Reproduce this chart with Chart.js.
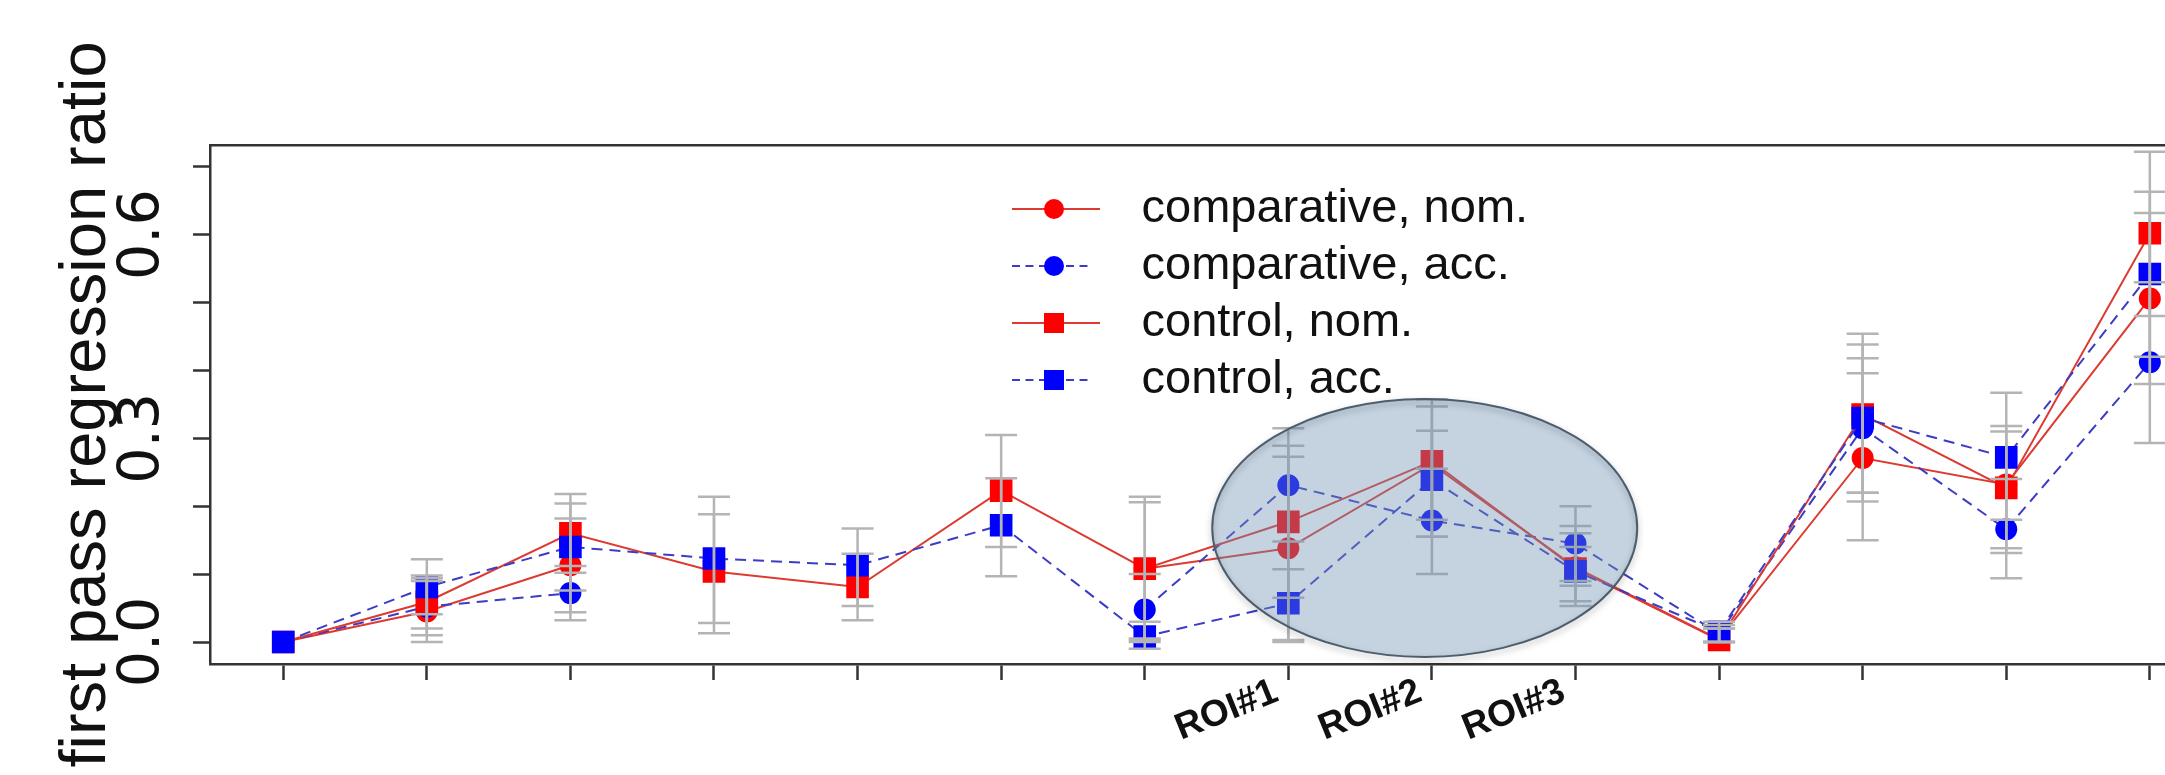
<!DOCTYPE html>
<html>
<head>
<meta charset="utf-8">
<title>first pass regression ratio</title>
<script src="https://cdn.jsdelivr.net/npm/chart.js@4.4.1/dist/chart.umd.min.js"></script>
<style>
  html, body { margin: 0; padding: 0; background: #fff; overflow: hidden; }
  #wrap { width: 2243px; height: 775px; }
</style>
</head>
<body>
<div id="wrap"><canvas id="grafico" width="2243" height="775"></canvas></div>
<script>
// Categories on the x axis (only three carry a label)
const xLabels = ['', '', '', '', '', '', '', 'ROI#1', 'ROI#2', 'ROI#3', '', '', '', ''];
const yTickValues = [0, 0.1, 0.2, 0.3, 0.4, 0.5, 0.6, 0.7];
const yTickLabels = ['0.0', '', '', '0.3', '', '', '0.6', ''];
const seriesNames = ['comparative, nom.', 'comparative, acc.', 'control, nom.', 'control, acc.'];

// Means
const compNom = [0, 0.045, 0.113, null, null, null, 0.108, 0.138, 0.262, 0.110, 0.004, 0.271, 0.232, 0.506];
const compAcc = [0, 0.052, 0.072, null, null, null, 0.048, 0.231, 0.179, 0.145, 0.012, 0.315, 0.166, 0.412];
const ctrlNom = [0, 0.059, 0.160, 0.104, 0.081, 0.223, 0.108, 0.177, 0.266, 0.108, 0.003, 0.335, 0.227, 0.602];
const ctrlAcc = [0, 0.081, 0.140, 0.123, 0.113, 0.172, 0.008, 0.057, 0.239, 0.104, 0.015, 0.330, 0.272, 0.542];

// Error bar limits
const compNomLo = [null, 0.000, 0.044, null, null, null, 0.005, 0.003, 0.155, 0.083, 0.000, 0.150, 0.131, 0.380];
const compNomHi = [null, 0.090, 0.182, null, null, null, 0.206, 0.273, 0.357, 0.140, 0.020, 0.396, 0.310, 0.632];
const compAccLo = [null, 0.010, 0.032, null, null, null, 0.000, 0.148, 0.100, 0.090, 0.000, 0.207, 0.094, 0.293];
const compAccHi = [null, 0.094, 0.112, null, null, null, 0.100, 0.315, 0.255, 0.200, 0.025, 0.418, 0.240, 0.530];
const ctrlNomLo = [null, 0.020, 0.102, 0.013, 0.032, 0.140, 0.003, 0.065, 0.180, 0.060, 0.000, 0.220, 0.138, 0.480];
const ctrlNomHi = [null, 0.098, 0.218, 0.188, 0.130, 0.305, 0.214, 0.289, 0.347, 0.160, 0.020, 0.454, 0.318, 0.722];
const ctrlAccLo = [null, 0.041, 0.076, 0.028, 0.053, 0.097, -0.010, 0.000, 0.155, 0.053, 0.000, 0.220, 0.180, 0.420];
const ctrlAccHi = [null, 0.122, 0.204, 0.214, 0.167, 0.241, 0.030, 0.107, 0.311, 0.171, 0.030, 0.438, 0.367, 0.663];

// Highlighted ROI region (data units)
const roiHighlight = { x: 8.95, y: 0.168, rx: 1.48, ry: 0.19 };

const fontFamily = "'Liberation Sans', Arial, Helvetica, sans-serif";
const tickFamily = "'DejaVu Sans', 'Liberation Sans', sans-serif";
const redMark = '#ff0000';
const blueMark = '#0000ff';
const redLine = '#dd3b32';
const blueLine = '#3c3cc4';
const errColor = '#b4b4b4';
const axisColor = '#333333';

const series = [
  { label: seriesNames[0], data: compNom, lo: compNomLo, hi: compNomHi, mark: redMark, line: redLine, dashed: false, square: false, order: 4 },
  { label: seriesNames[1], data: compAcc, lo: compAccLo, hi: compAccHi, mark: blueMark, line: blueLine, dashed: true, square: false, order: 3 },
  { label: seriesNames[2], data: ctrlNom, lo: ctrlNomLo, hi: ctrlNomHi, mark: redMark, line: redLine, dashed: false, square: true, order: 2 },
  { label: seriesNames[3], data: ctrlAcc, lo: ctrlAccLo, hi: ctrlAccHi, mark: blueMark, line: blueLine, dashed: true, square: true, order: 1 }
];

const toXY = values => values.map((v, i) => ({ x: i + 1, y: v }));

// One segment per point, separated by null gaps
function errorBars(lo, hi) {
  const pts = [];
  lo.forEach((l, i) => {
    if (l === null || hi[i] === null) return;
    pts.push({ x: i + 1, y: l }, { x: i + 1, y: hi[i] }, { x: i + 1, y: null });
  });
  return pts;
}

// Legend symbol: line - marker - line
function legendSample(s) {
  const c = document.createElement('canvas');
  c.width = 106;
  c.height = 30;
  const g = c.getContext('2d');
  g.strokeStyle = s.line;
  g.lineWidth = 2;
  g.setLineDash(s.dashed ? [8, 5.5] : []);
  g.beginPath();
  g.moveTo(0, 15);
  g.lineTo(s.dashed ? 78 : 88, 15);
  g.stroke();
  g.fillStyle = s.mark;
  if (s.square) {
    g.fillRect(32, 5, 20, 20);
  } else {
    g.beginPath();
    g.arc(42, 15, 10, 0, Math.PI * 2);
    g.fill();
  }
  return c;
}

const datasets = [];
series.forEach(s => {
  datasets.push({
    type: 'line',
    label: s.label,
    data: toXY(s.data),
    xAxisID: 'x',
    yAxisID: 'y',
    borderColor: s.line,
    borderWidth: 2,
    borderDash: s.dashed ? [11, 7] : [],
    backgroundColor: s.mark,
    pointStyle: s.square ? 'rect' : 'circle',
    pointRadius: s.square ? 16 : 11,
    pointBackgroundColor: s.mark,
    pointBorderColor: s.mark,
    pointBorderWidth: 0,
    tension: 0,
    spanGaps: false,
    fill: false,
    order: s.order
  });
});
series.forEach(s => {
  datasets.push({
    type: 'line',
    label: s.label + ' (CI)',
    data: errorBars(s.lo, s.hi),
    xAxisID: 'x',
    yAxisID: 'y',
    borderColor: errColor,
    borderWidth: 2.5,
    pointStyle: 'line',
    pointRadius: 16,
    pointBorderColor: errColor,
    pointBorderWidth: 2.5,
    pointBackgroundColor: errColor,
    spanGaps: false,
    fill: false,
    order: 0
  });
});

// Moves the legend into the plot, under the title area
const legendPlace = {
  id: 'legendPlace',
  afterLayout(chart) {
    const lg = chart.legend;
    const w = lg.width, h = lg.height;
    lg.left = 1002;
    lg.top = 175.5;
    lg.right = lg.left + w;
    lg.bottom = lg.top + h;
  }
};

// Shaded ellipse over the ROI points
const roiEllipse = {
  id: 'roiEllipse',
  afterDatasetsDraw(chart) {
    const { ctx, scales: { x, y } } = chart;
    const cx = x.getPixelForValue(roiHighlight.x);
    const cy = y.getPixelForValue(roiHighlight.y);
    const rx = x.getPixelForValue(roiHighlight.x + roiHighlight.rx) - cx;
    const ry = cy - y.getPixelForValue(roiHighlight.y + roiHighlight.ry);
    ctx.save();
    ctx.beginPath();
    ctx.ellipse(cx, cy, rx, ry, 0, 0, Math.PI * 2);
    ctx.fillStyle = 'rgba(110, 145, 180, 0.4)';
    ctx.fill();
    ctx.shadowColor = 'rgba(0, 0, 0, 0.35)';
    ctx.shadowBlur = 6;
    ctx.shadowOffsetY = 3;
    ctx.strokeStyle = '#4d5d6e';
    ctx.lineWidth = 2;
    ctx.stroke();
    ctx.restore();
  }
};

new Chart(document.getElementById('grafico'), {
  type: 'line',
  data: { datasets },
  options: {
    responsive: false,
    animation: false,
    devicePixelRatio: 1,
    events: [],
    layout: { padding: 0 },
    plugins: {
      tooltip: { enabled: false },
      legend: {
        position: 'chartArea',
        align: 'start',
        labels: {
          usePointStyle: true,
          pointStyleWidth: 106,
          padding: 10,
          color: '#111',
          font: { family: fontFamily, size: 47 },
          generateLabels: () => series.map((s, i) => ({
            text: s.label,
            pointStyle: legendSample(s),
            datasetIndex: i,
            hidden: false,
            lineWidth: 0,
            fillStyle: s.mark,
            strokeStyle: s.mark,
            fontColor: '#111'
          }))
        }
      }
    },
    scales: {
      x: {
        type: 'linear',
        position: 'bottom',
        min: 0.49,
        max: 14.52,
        afterBuildTicks: s => { s.ticks = xLabels.map((_, i) => ({ value: i + 1 })); },
        afterFit: s => { s.height = 111; },
        ticks: {
          autoSkip: false,
          minRotation: 22,
          maxRotation: 22,
          padding: -10,
          labelOffset: -12,
          color: '#111',
          font: { family: fontFamily, size: 37, weight: 'bold' },
          callback: v => xLabels[Math.round(v) - 1] || ''
        },
        grid: { drawOnChartArea: false, tickLength: 16, tickWidth: 2.5, tickColor: axisColor },
        border: { color: axisColor, width: 2.5 }
      },
      xTop: {
        type: 'linear',
        position: 'top',
        min: 0.49,
        max: 14.52,
        afterFit: s => { s.height = 145; },
        ticks: { display: false },
        grid: { drawOnChartArea: false, drawTicks: false },
        border: { color: axisColor, width: 2.5 }
      },
      y: {
        type: 'linear',
        position: 'left',
        min: -0.0324,
        max: 0.732,
        afterBuildTicks: s => { s.ticks = yTickValues.map(v => ({ value: v })); },
        afterFit: s => { s.width = 210; },
        ticks: {
          autoSkip: false,
          minRotation: 90,
          maxRotation: 90,
          crossAlign: 'center',
          padding: 3,
          color: '#111',
          font: { family: tickFamily, size: 57 },
          callback: v => {
            const k = yTickValues.findIndex(t => Math.abs(t - v) < 1e-9);
            return k >= 0 ? yTickLabels[k] : '';
          }
        },
        grid: { drawOnChartArea: false, tickLength: 17, tickWidth: 2.5, tickColor: axisColor },
        border: { color: axisColor, width: 2.5 },
        title: {
          display: true,
          text: 'first pass regression ratio',
          color: '#111',
          font: { family: fontFamily, size: 65 },
          padding: { top: 48, bottom: 0 }
        }
      }
    }
  },
  plugins: [legendPlace, roiEllipse]
});
</script>
</body>
</html>
